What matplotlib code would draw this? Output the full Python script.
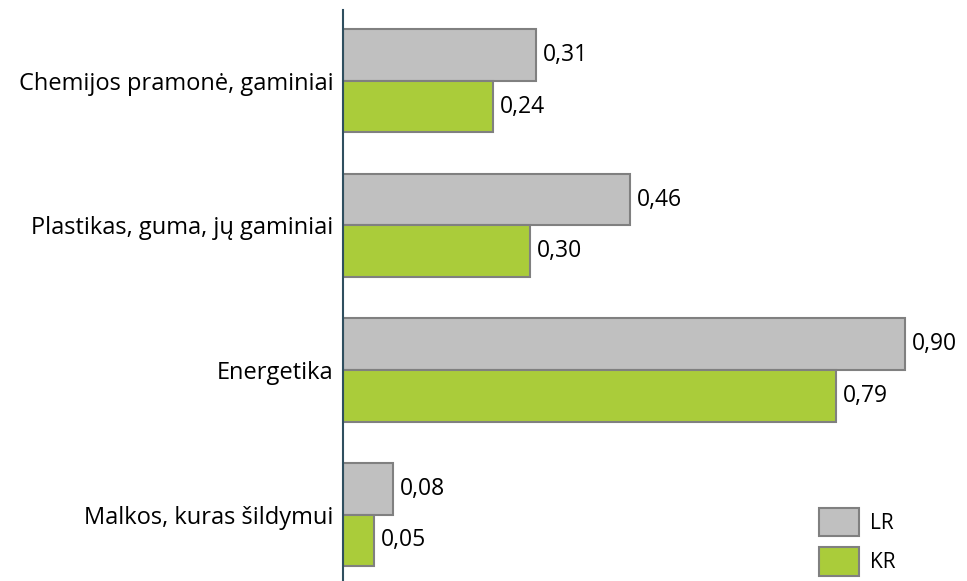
import matplotlib.pyplot as plt
import numpy as np

# Duomenys
kategorijos = ["Chemijos pramonė, gaminiai", "Plastikas, guma, jų gaminiai",
               "Energetika", "Malkos, kuras šildymui"]
lr = [0.31, 0.46, 0.90, 0.08]
kr = [0.24, 0.30, 0.79, 0.05]

plt.rcParams['font.family'] = ['Open Sans', 'DejaVu Sans']

fig = plt.figure(figsize=(9.67, 5.81), dpi=100)
ax = fig.add_axes([343/967, 0, 1 - 343/967, 571/581])

y = np.arange(len(kategorijos))
h = 0.357
b1 = ax.barh(y - h/2, lr, height=h, color="#c0c0c0", edgecolor="#808080",
             linewidth=1.5, label="LR")
b2 = ax.barh(y + h/2, kr, height=h, color="#aacc3a", edgecolor="#808080",
             linewidth=1.5, label="KR")

for bars, vals in [(b1, lr), (b2, kr)]:
    for rect, v in zip(bars, vals):
        ax.text(v + 0.011, rect.get_y() + rect.get_height()/2,
                f"{v:.2f}".replace(".", ","), va="center", ha="left",
                fontsize=16.5, color="black")

ax.set_xlim(0, 1.0)
ax.set_ylim(3.46, -0.49)
ax.set_yticks(y)
ax.set_yticklabels(kategorijos, fontsize=17)
ax.tick_params(axis="y", length=0, pad=7)
ax.set_xticks([])
for s in ["top", "right", "bottom"]:
    ax.spines[s].set_visible(False)
ax.spines["left"].set_color("#2f4f5f")
ax.spines["left"].set_linewidth(1.5)

ax.legend(loc="lower right", bbox_to_anchor=(0.899, -0.005), frameon=False,
          fontsize=15, handlelength=1.9, handleheight=1.7, labelspacing=0.55,
          handletextpad=0.55, borderaxespad=0.0)

fig.savefig("out.png", dpi=100)
